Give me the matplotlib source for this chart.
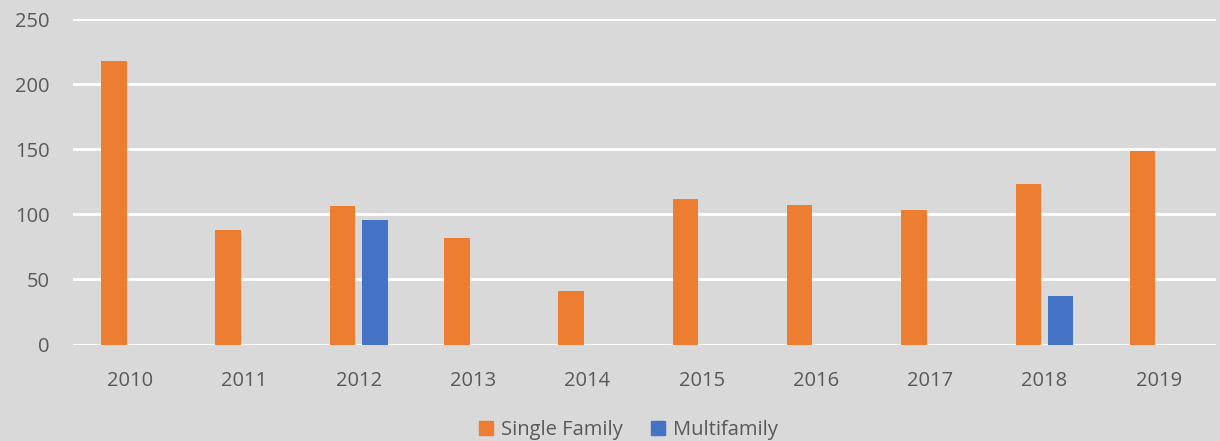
import numpy as np
import matplotlib
matplotlib.use('Agg')
import matplotlib.pyplot as plt
from matplotlib.patches import Patch

years = ['2010', '2011', '2012', '2013', '2014', '2015', '2016', '2017', '2018', '2019']
single_family = [218, 88, 106, 82, 41, 112, 107, 103, 123, 149]
multifamily = [0, 0, 96, 0, 0, 0, 0, 0, 37, 0]
y_ticks = [0, 50, 100, 150, 200, 250]

bg = '#d9d9d9'
orange = '#ed7d31'
blue = '#4472c4'
txt = '#595959'

plt.rcParams['font.family'] = ['Open Sans', 'DejaVu Sans']

fig = plt.figure(figsize=(12.2, 4.41), dpi=100, facecolor=bg)
ax = fig.add_axes([0.0598, 0.2188, 0.9369, 0.7381], facecolor=bg)

x = np.arange(len(years))
w = 0.223
off = 0.142
ax.bar(x - off, single_family, width=w, color=orange, zorder=3)
ax.bar(x + off, multifamily, width=w, color=blue, zorder=3)

ax.set_xlim(-0.5, len(years) - 0.5)
ax.set_ylim(0, 250)
ax.set_yticks(y_ticks)
ax.set_xticks(x)
ax.set_xticklabels(years)
ax.yaxis.grid(True, color='white', linewidth=2, zorder=0)
ax.set_axisbelow(True)
for s in ax.spines.values():
    s.set_visible(False)
ax.tick_params(axis='both', length=0, labelsize=14.5, colors=txt)
ax.tick_params(axis='y', pad=17)
ax.tick_params(axis='x', pad=19)

handles = [Patch(color=orange, label='Single Family'), Patch(color=blue, label='Multifamily')]
fig.legend(handles=handles, loc='center', bbox_to_anchor=(0.515, 0.024), ncol=2, frameon=False,
           fontsize=14.5, labelcolor=txt, handlelength=0.7, handleheight=0.7,
           handletextpad=0.4, columnspacing=1.4)

fig.savefig('out.png', dpi=100, facecolor=bg)
